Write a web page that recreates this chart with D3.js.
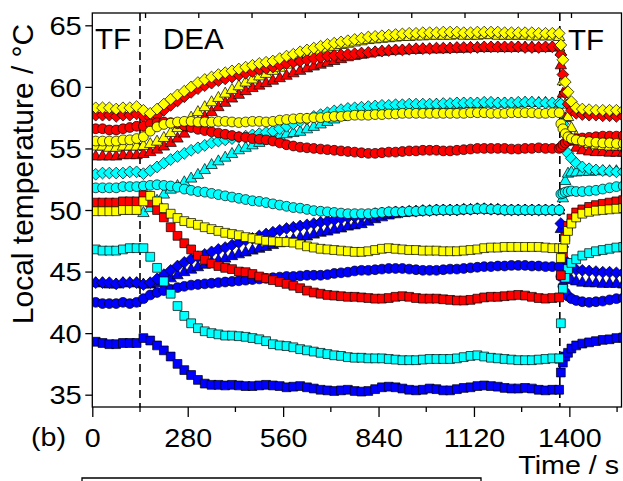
<!DOCTYPE html>
<html><head><meta charset="utf-8">
<script src="https://cdn.jsdelivr.net/npm/d3@7/dist/d3.min.js"></script>
<style>body{margin:0;background:#fff}svg{display:block}text{font-family:"Liberation Sans",Arial,sans-serif;fill:#000}</style>
</head><body>
<svg id="chart" width="623" height="481"></svg>
<script>
// time stamps (s)
const times = [10,30,50,70,90,110,130,150,170,190,210,230,250,270,290,310,330,350,370,390,
410,430,450,470,490,510,530,550,570,590,610,630,650,670,690,710,730,750,770,790,
810,830,850,870,890,910,930,950,970,990,1010,1030,1050,1070,1090,1110,1130,1150,1170,1190,
1210,1230,1250,1270,1290,1310,1330,1350,1370,
1375,1381,1388,1396,1406,1420,1438,1458,1478,1498,1518,1538,1558];
const xTicks = [0,280,560,840,1120,1400];
const xMinor = [140,420,700,980,1260,1540];
const yTicks = [35,40,45,50,55,60,65];
const phaseLines = [140,1372];

const blueTriangle = [44.1,44.1,44.0,44.0,44.1,44.1,44.1,44.0,44.0,44.1,
44.3,44.5,44.75,45.0,45.2,45.4,45.6,45.8,45.95,46.1,
46.3,46.45,46.6,46.75,46.9,47.05,47.2,47.35,47.5,47.65,
47.8,47.9,48.05,48.2,48.3,48.45,48.55,48.7,48.8,48.9,
49.1,49.3,49.45,49.6,49.7,49.8,49.85,49.9,49.95,49.95,
50.0,50.0,50.0,50.0,50.05,50.05,50.1,50.1,50.05,50.05,
50.0,50.0,50.0,50.0,50.0,50.0,50.0,50.0,50.0,
48.5,46.2,45.0,44.6,44.35,44.25,44.15,44.1,44.1,44.05,44.05,44.05,44.0];
const cyanTriangle = [50.0,50.0,50.0,50.0,50.0,50.0,50.0,49.8,50.2,50.8,
51.3,51.7,52.0,52.3,52.6,52.9,53.3,53.7,54.0,54.3,
54.6,54.9,55.1,55.3,55.5,55.7,55.9,56.05,56.2,56.3,
56.4,56.6,56.8,57.0,57.2,57.4,57.6,57.8,57.95,58.1,
58.2,58.3,58.35,58.4,58.45,58.5,58.5,58.5,58.55,58.55,
58.6,58.6,58.6,58.6,58.65,58.65,58.65,58.7,58.7,58.7,
58.7,58.7,58.7,58.75,58.75,58.75,58.75,58.7,58.7,
37.9,51.0,52.4,53.0,53.1,53.1,53.15,53.15,53.2,53.2,53.2,53.2,53.25];
const redTriangle = [54.4,54.4,54.4,54.4,54.5,54.5,54.5,54.6,54.75,54.95,
55.2,55.5,55.85,56.25,56.7,57.15,57.6,58.0,58.4,58.75,
59.1,59.4,59.7,59.95,60.15,60.35,60.55,60.75,60.95,61.15,
61.35,61.55,61.7,61.85,62.0,62.15,62.3,62.45,62.55,62.65,
62.75,62.85,62.9,62.95,63.0,63.0,63.05,63.05,63.1,63.1,
63.1,63.1,63.15,63.15,63.15,63.2,63.2,63.2,63.2,63.2,
63.2,63.2,63.25,63.25,63.25,63.2,63.2,63.25,63.25,
61.8,59.5,57.5,56.3,55.6,55.1,54.9,54.8,54.75,54.75,54.7,54.7,54.7];
const yellowTriangle = [55.2,55.2,55.1,55.1,55.2,55.2,55.2,55.25,55.4,55.6,
55.9,56.3,56.7,57.1,57.55,58.0,58.4,58.8,59.15,59.5,
59.8,60.1,60.4,60.65,60.9,61.1,61.35,61.6,61.85,62.1,
62.35,62.6,62.8,63.0,63.15,63.3,63.45,63.55,63.65,63.75,
63.85,63.9,63.95,64.0,64.05,64.1,64.1,64.15,64.15,64.2,
64.2,64.2,64.2,64.25,64.2,64.2,64.2,64.25,64.25,64.2,
64.2,64.2,64.2,64.2,64.15,64.15,64.15,64.15,64.1,
62.9,60.5,58.6,57.6,56.7,56.0,55.6,55.4,55.3,55.25,55.2,55.2,55.2];
const blueDiamond = [44.1,44.1,44.1,44.0,44.1,44.1,44.1,43.95,44.1,44.4,
44.75,45.1,45.45,45.75,46.0,46.2,46.4,46.6,46.8,46.95,
47.15,47.35,47.55,47.7,47.9,48.05,48.2,48.35,48.5,48.6,
48.7,48.8,48.9,49.0,49.1,49.2,49.3,49.4,49.45,49.5,
49.6,49.7,49.75,49.8,49.85,49.85,49.9,49.9,49.95,49.95,
50.0,50.0,50.0,50.0,50.05,50.05,50.1,50.1,50.05,50.05,
50.0,50.0,50.0,50.0,50.0,50.0,50.0,50.0,50.0,
48.9,47.0,45.9,45.5,45.3,45.15,45.1,45.05,45.0,44.95,44.95,44.9,44.9];
const cyanDiamond = [52.9,53.0,53.0,53.0,53.0,53.1,53.1,52.95,53.2,53.5,
53.8,54.1,54.35,54.6,54.85,55.05,55.25,55.45,55.6,55.7,
55.8,55.9,56.0,56.1,56.2,56.3,56.4,56.6,56.8,57.0,
57.2,57.4,57.6,57.75,57.9,58.05,58.15,58.25,58.3,58.35,
58.4,58.45,58.5,58.5,58.55,58.55,58.6,58.6,58.6,58.6,
58.6,58.65,58.65,58.7,58.7,58.7,58.7,58.75,58.75,58.7,
58.7,58.7,58.75,58.75,58.75,58.7,58.7,58.7,58.7,
58.6,57.0,55.4,54.6,54.2,53.8,53.5,53.35,53.25,53.2,53.15,53.1,53.1];
const redDiamond = [57.7,57.7,57.7,57.6,57.7,57.7,57.8,57.6,57.5,57.7,
58.1,58.5,58.85,59.2,59.55,59.85,60.1,60.3,60.5,60.65,
60.8,60.95,61.1,61.25,61.4,61.5,61.6,61.75,61.9,62.0,
62.1,62.2,62.3,62.4,62.5,62.55,62.6,62.65,62.7,62.75,
62.8,62.85,62.9,62.95,63.0,63.0,63.05,63.1,63.1,63.1,
63.15,63.15,63.15,63.2,63.2,63.2,63.2,63.25,63.25,63.25,
63.25,63.25,63.25,63.2,63.2,63.2,63.25,63.25,63.25,
62.6,61.0,59.5,58.6,58.1,57.85,57.75,57.7,57.7,57.65,57.65,57.6,57.6];
const yellowDiamond = [58.3,58.3,58.3,58.2,58.3,58.3,58.4,58.1,57.85,58.2,
58.6,59.0,59.35,59.65,60.0,60.35,60.6,60.8,61.0,61.15,
61.3,61.45,61.6,61.75,61.9,62.0,62.1,62.3,62.5,62.65,
62.85,63.0,63.15,63.3,63.45,63.55,63.65,63.75,63.85,63.95,
64.05,64.1,64.15,64.2,64.25,64.3,64.35,64.35,64.4,64.4,
64.4,64.45,64.45,64.45,64.4,64.4,64.45,64.45,64.45,64.45,
64.4,64.4,64.4,64.4,64.4,64.35,64.35,64.35,64.35,
63.4,62.2,60.4,59.6,58.8,58.3,58.2,58.15,58.1,58.1,58.1,58.1,58.1];
const blueCircle = [42.5,42.4,42.4,42.4,42.5,42.4,42.5,42.8,43.1,43.3,
43.45,43.55,43.7,43.8,43.9,43.95,44.0,44.05,44.1,44.15,
44.2,44.25,44.3,44.35,44.4,44.45,44.5,44.55,44.6,44.6,
44.65,44.7,44.7,44.7,44.75,44.85,44.9,44.95,45.05,45.1,
45.1,45.15,45.2,45.25,45.25,45.25,45.2,45.15,45.1,45.1,
45.1,45.15,45.2,45.2,45.25,45.3,45.35,45.4,45.4,45.45,
45.45,45.5,45.5,45.5,45.45,45.45,45.4,45.4,45.4,
44.6,43.8,43.3,43.0,42.8,42.65,42.55,42.5,42.55,42.6,42.7,42.8,42.85];
const cyanCircle = [51.8,51.8,51.8,51.8,51.9,51.9,51.9,51.95,52.0,52.05,
52.0,51.95,51.85,51.7,51.6,51.5,51.45,51.35,51.25,51.15,
51.05,50.95,50.85,50.75,50.7,50.6,50.5,50.4,50.3,50.2,
50.15,50.05,49.95,49.9,49.85,49.8,49.75,49.7,49.7,49.7,
49.7,49.75,49.8,49.85,49.85,49.85,49.9,49.9,49.95,49.95,
50.0,50.0,50.0,50.0,50.05,50.05,50.1,50.1,50.05,50.05,
50.0,50.0,50.0,50.0,50.0,50.0,50.0,50.0,50.0,
51.3,51.35,51.45,51.5,51.55,51.5,51.5,51.55,51.6,51.7,51.8,51.9,51.95];
const redCircle = [56.6,56.6,56.5,56.5,56.6,56.7,56.8,56.8,57.0,57.1,
57.15,57.1,57.0,56.85,56.7,56.55,56.45,56.35,56.25,56.15,
56.05,55.95,55.9,55.8,55.75,55.7,55.6,55.45,55.3,55.2,
55.1,55.05,55.0,54.95,54.9,54.85,54.8,54.75,54.7,54.65,
54.6,54.6,54.65,54.7,54.7,54.75,54.8,54.8,54.85,54.85,
54.85,54.8,54.8,54.85,54.9,54.95,55.0,55.0,55.0,55.0,
55.0,54.95,54.95,55.0,55.0,55.05,55.0,55.0,55.0,
55.1,55.3,55.45,55.6,55.7,55.8,55.85,55.9,55.95,56.0,56.0,56.0,56.05];
const yellowCircle = [55.6,55.6,55.6,55.6,55.7,55.7,55.8,55.95,56.4,56.75,
56.95,57.05,57.15,57.2,57.2,57.15,57.15,57.15,57.2,57.2,
57.15,57.1,57.15,57.2,57.2,57.15,57.2,57.3,57.35,57.4,
57.45,57.45,57.5,57.5,57.55,57.6,57.6,57.65,57.7,57.7,
57.7,57.75,57.75,57.8,57.8,57.85,57.85,57.85,57.85,57.85,
57.85,57.85,57.85,57.85,57.85,57.9,57.9,57.9,57.85,57.85,
57.85,57.9,57.9,57.9,57.9,57.85,57.85,57.9,57.9,
57.0,56.6,56.2,55.95,55.8,55.7,55.6,55.55,55.5,55.45,55.45,55.4,55.4];
const blueSquare = [39.3,39.2,39.1,39.1,39.2,39.2,39.2,39.6,39.4,39.0,
38.6,38.1,37.5,37.0,36.6,36.2,35.9,35.8,35.8,35.75,
35.8,35.75,35.7,35.7,35.75,35.8,35.75,35.7,35.6,35.65,
35.7,35.6,35.5,35.4,35.35,35.3,35.35,35.4,35.3,35.25,
35.3,35.45,35.6,35.65,35.6,35.5,35.4,35.35,35.4,35.5,
35.45,35.35,35.35,35.45,35.55,35.6,35.7,35.75,35.7,35.65,
35.55,35.5,35.5,35.55,35.5,35.4,35.35,35.4,35.4,
36.8,37.6,38.1,38.4,38.75,39.0,39.15,39.25,39.35,39.45,39.5,39.6,39.65];
const cyanSquare = [46.8,46.7,46.7,46.7,46.8,46.9,46.9,46.9,46.2,45.3,
44.2,43.2,42.2,41.4,40.8,40.4,40.15,40.0,39.9,39.8,
39.8,39.75,39.7,39.6,39.5,39.35,39.1,39.0,38.95,38.85,
38.7,38.6,38.5,38.4,38.3,38.2,38.15,38.05,38.0,38.0,
37.95,37.95,37.95,37.9,37.85,37.8,37.8,37.8,37.85,37.9,
37.9,37.9,37.9,37.95,38.05,38.15,38.2,38.1,38.0,37.95,
37.9,37.85,37.8,37.8,37.8,37.85,37.9,37.95,37.95,
40.8,43.6,44.5,45.2,45.7,46.0,46.3,46.5,46.65,46.75,46.85,46.95,47.0];
const redSquare = [50.6,50.6,50.6,50.6,50.7,50.7,50.7,51.2,50.6,50.0,
49.4,48.6,47.9,47.3,46.8,46.3,45.95,45.65,45.45,45.3,
45.2,45.0,44.95,44.8,44.6,44.45,44.3,44.15,44.0,43.85,
43.65,43.45,43.3,43.2,43.1,43.05,43.0,42.95,42.95,42.9,
42.85,42.8,42.8,42.85,42.95,43.0,42.95,42.85,42.8,42.8,
42.8,42.75,42.7,42.65,42.65,42.7,42.8,42.9,42.95,42.95,
43.0,43.05,43.1,43.05,42.95,42.85,42.8,42.85,42.9,
44.7,46.5,47.8,48.7,49.3,49.8,50.05,50.25,50.4,50.5,50.6,50.7,50.8];
const yellowSquare = [49.9,49.9,49.9,49.9,50.0,50.0,50.0,50.7,51.15,50.7,
50.15,49.7,49.35,49.1,48.95,48.8,48.6,48.45,48.3,48.15,
48.05,47.95,47.8,47.7,47.6,47.5,47.45,47.4,47.4,47.35,
47.2,47.05,46.95,46.85,46.8,46.75,46.7,46.65,46.6,46.6,
46.65,46.75,46.85,46.9,46.85,46.8,46.75,46.75,46.7,46.7,
46.7,46.65,46.65,46.65,46.7,46.75,46.8,46.9,46.95,46.95,
47.0,47.0,47.0,47.0,47.0,47.0,46.95,46.9,46.9,
46.1,46.9,47.6,48.3,48.9,49.4,49.7,49.85,49.95,50.0,50.05,50.1,50.15];

const BLUE='#0000ff', CYAN='#00ffff', RED='#ff0000', YELLOW='#ffff00';
const series = [
  {shape:'triangle', color:BLUE, values:blueTriangle},
  {shape:'triangle', color:CYAN, values:cyanTriangle},
  {shape:'triangle', color:RED, values:redTriangle},
  {shape:'triangle', color:YELLOW, values:yellowTriangle},
  {shape:'diamond', color:BLUE, values:blueDiamond},
  {shape:'diamond', color:CYAN, values:cyanDiamond},
  {shape:'diamond', color:RED, values:redDiamond},
  {shape:'diamond', color:YELLOW, values:yellowDiamond},
  {shape:'circle', color:BLUE, values:blueCircle},
  {shape:'circle', color:CYAN, values:cyanCircle},
  {shape:'circle', color:RED, values:redCircle},
  {shape:'circle', color:YELLOW, values:yellowCircle},
  {shape:'square', color:BLUE, values:blueSquare},
  {shape:'square', color:CYAN, values:cyanSquare},
  {shape:'square', color:RED, values:redSquare},
  {shape:'square', color:YELLOW, values:yellowSquare}
];

const svg = d3.select('#chart');
const L=92.3, R=621.5, T=13, B=407;
const x = d3.scaleLinear().domain([0,1553]).range([L,R]);
const y = d3.scaleLinear().domain([34,66]).range([B,T]);

svg.append('defs').append('clipPath').attr('id','plotclip')
  .append('rect').attr('x',L).attr('y',T).attr('width',R-L).attr('height',B-T);

const shapes = {
  triangle: 'M0,-5.9L5.7,4.1L-5.7,4.1Z',
  diamond: 'M0,-5.9L5.9,0L0,5.9L-5.9,0Z',
  square: 'M-4.4,-4.4H4.4V4.4H-4.4Z',
  circle: d3.symbol().type(d3.symbolCircle).size(76)()
};

// phase separators
svg.append('g').selectAll('line').data(phaseLines).join('line')
  .attr('x1',d=>x(d)).attr('x2',d=>x(d)).attr('y1',T).attr('y2',B)
  .attr('stroke','#000').attr('stroke-width',1.6).attr('stroke-dasharray','8,5');

const plot = svg.append('g').attr('clip-path','url(#plotclip)');
series.forEach(s=>{
  const pts = times.map((t,i)=>({t, v:s.values[i]}));
  plot.append('g').selectAll('path').data(pts).join('path')
    .attr('d', shapes[s.shape])
    .attr('transform', d=>`translate(${x(d.t)},${y(d.v)})`)
    .attr('fill', s.color).attr('stroke','#000').attr('stroke-width',0.7);
});

// frame
svg.append('rect').attr('x',L).attr('y',T).attr('width',R-L).attr('height',B-T)
  .attr('fill','none').attr('stroke','#000').attr('stroke-width',1.3);

const FONT='Liberation Sans, Arial, sans-serif';
// bottom axis
const xa = svg.append('g').attr('transform',`translate(0,${B})`)
  .call(d3.axisBottom(x).tickValues(xTicks).tickSize(10).tickFormat(d3.format('d')));
xa.select('.domain').remove();
xa.selectAll('.tick line').attr('stroke-width',1.3);
xa.selectAll('.tick text').attr('y',0).attr('dy',0).attr('font-size',26.5).attr('font-family',FONT)
  .attr('transform','translate(0,39.5) scale(1.08,1)');
svg.append('g').attr('transform',`translate(0,${B})`).selectAll('line').data(xMinor.filter(d=>x(d)<R)).join('line')
  .attr('x1',d=>x(d)).attr('x2',d=>x(d)).attr('y1',0).attr('y2',5).attr('stroke','#000').attr('stroke-width',1.3);

// top ticks (inward)
const topTicks = [156.25,312.5,468.75,625,781.25,937.5,1093.75,1250,1406.25];
svg.append('g').selectAll('line').data(topTicks).join('line')
  .attr('x1',d=>x(d)).attr('x2',d=>x(d)).attr('y1',T).attr('y2',T+5).attr('stroke','#000').attr('stroke-width',1.3);

// left axis
const ya = svg.append('g').attr('transform',`translate(${L},0)`)
  .call(d3.axisLeft(y).tickValues(yTicks).tickSize(7));
ya.select('.domain').remove();
ya.selectAll('.tick line').attr('stroke-width',1.3);
ya.selectAll('.tick text').attr('x',0).attr('dy','0.35em').attr('font-size',26.5).attr('font-family',FONT)
  .attr('transform','translate(-10.5,0) scale(1.1,1)');

// labels
svg.append('text').attr('transform','translate(33,174) rotate(-90)').attr('text-anchor','middle')
  .attr('font-size',30).text('Local temperature / °C');
svg.append('text').attr('x',95).attr('y',49).attr('font-size',29.5).text('TF');
svg.append('text').attr('x',163).attr('y',49).attr('font-size',29.5).text('DEA');
svg.append('text').attr('x',568).attr('y',50).attr('font-size',29.5).text('TF');
svg.append('text').attr('transform','translate(31,446) scale(1.08,1)').attr('font-size',26.5).text('(b)');
svg.append('text').attr('transform','translate(619,474) scale(1.08,1)').attr('text-anchor','end').attr('font-size',26.5).text('Time / s');
svg.append('path').attr('d','M82,490V478H481V490').attr('fill','none').attr('stroke','#000').attr('stroke-width',1.3);
</script>
</body></html>
